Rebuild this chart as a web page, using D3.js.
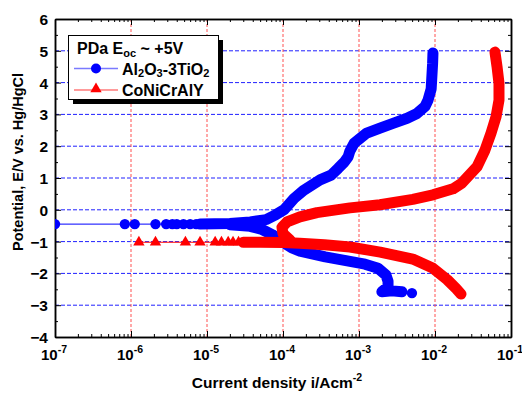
<!DOCTYPE html>
<html>
<head>
<meta charset="utf-8">
<script src="https://cdn.jsdelivr.net/npm/d3@7"></script>
<style>
  body { margin: 0; background: #fff; }
  text { font-family: Arial, "Liberation Sans", sans-serif; font-weight: bold; fill: #000; }
</style>
</head>
<body>
<div id="chart"></div>
<script>
// [current density (A/cm2), potential (V)]
const blueSparse = [
  [1e-7, -0.45], [8.3e-7, -0.45], [1.12e-6, -0.45], [2.1e-6, -0.45], [2.9e-6, -0.45],
  [3.5e-6, -0.45], [4.0e-6, -0.45], [4.9e-6, -0.45], [6.0e-6, -0.45], [7.2e-6, -0.45]
];
const blueAnodic = [
  [8.1e-6, -0.45], [2.0e-5, -0.43], [3.7e-5, -0.38], [6.0e-5, -0.31], [8.1e-5, -0.15],
  [1.03e-4, 0.0], [1.4e-4, 0.36], [1.89e-4, 0.62], [3.07e-4, 0.94], [4.3e-4, 1.09],
  [5.3e-4, 1.30], [6.4e-4, 1.50], [7.2e-4, 1.67], [7.6e-4, 1.85], [8.6e-4, 2.09],
  [1.24e-3, 2.40], [1.89e-3, 2.57], [2.8e-3, 2.72], [4.3e-3, 2.88], [5.8e-3, 3.03],
  [7.4e-3, 3.25], [8.1e-3, 3.45], [8.9e-3, 3.80], [9.1e-3, 4.20], [9.3e-3, 4.60], [9.4e-3, 4.93]
];
const blueCathodic = [
  [2.0e-5, -0.47], [3.7e-5, -0.52], [5.3e-5, -0.62], [7.2e-5, -0.78], [9.7e-5, -1.0], [1.31e-4, -1.2],
  [1.67e-4, -1.30], [3.6e-4, -1.48], [7.6e-4, -1.62], [1.2e-3, -1.71], [1.78e-3, -1.84],
  [2.26e-3, -2.05], [2.41e-3, -2.25], [2.41e-3, -2.42], [2.0e-3, -2.58], [2.72e-3, -2.55],
  [3.68e-3, -2.58]
];
const blueEnd = [[4.97e-3, -2.62]];

const redSparse = [
  [1.27e-6, -1.02], [2.1e-6, -1.02], [5.2e-6, -1.02], [8.1e-6, -1.02], [1.28e-5, -1.02],
  [1.55e-5, -1.02], [1.9e-5, -1.02], [2.2e-5, -1.02], [2.6e-5, -1.02]
];
const redCathodic = [
  [3.0e-5, -1.02], [5.0e-5, -1.02], [1.0e-4, -1.03], [1.66e-4, -1.05], [3.5e-4, -1.10],
  [7.6e-4, -1.17], [1.9e-3, -1.33], [5.1e-3, -1.55], [9.3e-3, -1.83], [1.45e-2, -2.2],
  [1.9e-2, -2.48], [2.2e-2, -2.65]
];
const redAnodic = [
  [1.24e-4, -0.95], [1.0e-4, -0.75], [9.7e-5, -0.55], [1.13e-4, -0.38], [1.67e-4, -0.22],
  [2.8e-4, -0.09], [7.6e-4, 0.06], [1.89e-3, 0.16], [5.1e-3, 0.33], [9.4e-3, 0.47],
  [1.73e-2, 0.66], [2.26e-2, 0.84], [3.57e-2, 1.35], [4.55e-2, 1.88], [5.46e-2, 2.41],
  [6.35e-2, 2.92], [6.95e-2, 3.45], [6.95e-2, 3.98], [6.55e-2, 4.5], [6.15e-2, 4.96]
];

const yTicks = [-4, -3, -2, -1, 0, 1, 2, 3, 4, 5, 6];
const yGrid = [-3, -2, -1, 0, 1, 2, 3, 4, 5];
const xExponents = [-7, -6, -5, -4, -3, -2, -1];
const xGrid = [1e-6, 1e-5, 1e-4, 1e-3, 1e-2];

const W = 522, H = 394;
const margin = { top: 19, right: 11, bottom: 57, left: 55 };
const width = W - margin.left - margin.right;
const height = H - margin.top - margin.bottom;

const svg = d3.select("#chart").append("svg")
  .attr("width", W).attr("height", H);
const g = svg.append("g")
  .attr("transform", "translate(" + margin.left + "," + margin.top + ")");

const x = d3.scaleLog().domain([1e-7, 1e-1]).range([0, width]);
const y = d3.scaleLinear().domain([-4, 6]).range([height, 0]);

svg.append("defs").append("clipPath").attr("id", "plot")
  .append("rect").attr("width", width).attr("height", height);

// grid
g.append("g").selectAll("line").data(yGrid).enter().append("line")
  .attr("x1", 0).attr("x2", width)
  .attr("y1", d => y(d)).attr("y2", d => y(d))
  .attr("stroke", "#2020ff").attr("stroke-width", 1).attr("stroke-dasharray", "4,2");
g.append("g").selectAll("line").data(xGrid).enter().append("line")
  .attr("x1", d => x(d)).attr("x2", d => x(d))
  .attr("y1", 0).attr("y2", height)
  .attr("stroke", "#ff5050").attr("stroke-width", 1).attr("stroke-dasharray", "3,2");

// axes (ticks inward)
const xMajor = xExponents.map(e => Math.pow(10, e));
const xMinor = [];
xExponents.slice(0, -1).forEach(e => { for (let k = 2; k <= 9; k++) xMinor.push(k * Math.pow(10, e)); });
const yMinor = d3.range(-3.5, 6, 1);

function styleAxis(sel) {
  sel.selectAll("path").attr("stroke", "#000").attr("stroke-width", 1.5);
  sel.selectAll("line").attr("stroke", "#000").attr("stroke-width", 1);
}
g.append("g").attr("transform", "translate(0," + height + ")")
  .call(d3.axisBottom(x).tickValues(xMajor).tickSize(-6).tickSizeOuter(0).tickFormat(""))
  .call(styleAxis);
g.append("g").attr("transform", "translate(0," + height + ")")
  .call(d3.axisBottom(x).tickValues(xMinor).tickSize(-3).tickSizeOuter(0).tickFormat(""))
  .call(styleAxis);
g.append("g")
  .call(d3.axisTop(x).tickValues(xMajor).tickSize(-6).tickSizeOuter(0).tickFormat(""))
  .call(styleAxis);
g.append("g")
  .call(d3.axisTop(x).tickValues(xMinor).tickSize(-3).tickSizeOuter(0).tickFormat(""))
  .call(styleAxis);
g.append("g")
  .call(d3.axisLeft(y).tickValues(yTicks).tickSize(-6).tickSizeOuter(0).tickPadding(7).tickFormat(d3.format("d")))
  .call(styleAxis)
  .call(a => a.selectAll("text").attr("font-size", 15.5).attr("dy", "0.36em")
    .style("font-family", "Arial, 'Liberation Sans', sans-serif").style("font-weight", "bold").attr("fill", "#000"));
g.append("g")
  .call(d3.axisLeft(y).tickValues(yMinor).tickSize(-3).tickSizeOuter(0).tickFormat(""))
  .call(styleAxis);
g.append("g").attr("transform", "translate(" + width + ",0)")
  .call(d3.axisRight(y).tickValues(yTicks).tickSize(-6).tickSizeOuter(0).tickFormat(""))
  .call(styleAxis);
g.append("g").attr("transform", "translate(" + width + ",0)")
  .call(d3.axisRight(y).tickValues(yMinor).tickSize(-3).tickSizeOuter(0).tickFormat(""))
  .call(styleAxis);

// x tick labels 10^n
const xl = g.append("g").selectAll("text").data(xExponents).enter().append("text")
  .attr("x", e => x(Math.pow(10, e)) - 1).attr("y", height + 23)
  .attr("text-anchor", "middle").attr("font-size", 15);
xl.append("tspan").text("10");
xl.append("tspan").attr("dy", -7).attr("font-size", 10.5).text(e => e);

// axis titles
svg.append("text").attr("transform", "translate(23,162) rotate(-90)")
  .attr("text-anchor", "middle").attr("font-size", 14.5)
  .text("Potential, E/V vs. Hg/HgCl");
const xt = svg.append("text").attr("x", 277).attr("y", 388)
  .attr("text-anchor", "middle").attr("font-size", 15.5);
xt.append("tspan").text("Current density i/Acm");
xt.append("tspan").attr("dy", -7).attr("font-size", 10.5).text("-2");

// data
const plot = g.append("g").attr("clip-path", "url(#plot)");
const line = d3.line().x(d => x(d[0])).y(d => y(d[1])).curve(d3.curveLinear);
const tri = d3.symbol().type(d3.symbolTriangle).size(56);

function drawSeries(sparse, bands, ends, color, marker) {
  plot.append("path").datum(sparse.concat([bands[0][0]]))
    .attr("d", line).attr("fill", "none").attr("stroke", color).attr("stroke-width", 1);
  bands.forEach(b => {
    plot.append("path").datum(b).attr("d", line).attr("fill", "none")
      .attr("stroke", color).attr("stroke-width", 11)
      .attr("stroke-linejoin", "round").attr("stroke-linecap", "round");
  });
  ends.forEach(e => {
    plot.append("path").datum([bands[1][bands[1].length - 1], e])
      .attr("d", line).attr("fill", "none").attr("stroke", color).attr("stroke-width", 1);
  });
  const pts = sparse.concat(ends);
  if (marker === "circle") {
    plot.append("g").selectAll("circle").data(pts).enter().append("circle")
      .attr("cx", d => x(d[0])).attr("cy", d => y(d[1])).attr("r", 5.2).attr("fill", color);
  } else {
    plot.append("g").selectAll("path").data(pts).enter().append("path")
      .attr("d", tri).attr("transform", d => "translate(" + x(d[0]) + "," + y(d[1]) + ")")
      .attr("fill", color);
  }
}
drawSeries(blueSparse, [blueAnodic, blueCathodic], blueEnd, "#0000ff", "circle");
drawSeries(redSparse, [redCathodic, redAnodic], [], "#ff0000", "triangle");

// legend
const lg = svg.append("g");
lg.append("rect").attr("x", 73).attr("y", 40).attr("width", 150).attr("height", 64).attr("fill", "#000");
lg.append("rect").attr("x", 68.5).attr("y", 35.5).attr("width", 150).attr("height", 64)
  .attr("fill", "#fff").attr("stroke", "#000").attr("stroke-width", 1);
const t1 = lg.append("text").attr("x", 77).attr("y", 54).attr("font-size", 16);
t1.append("tspan").text("PDa E");
t1.append("tspan").attr("dy", 3).attr("font-size", 11).text("oc");
t1.append("tspan").attr("dy", -3).text(" ~ +5V");
lg.append("line").attr("x1", 74).attr("x2", 118).attr("y1", 68.5).attr("y2", 68.5)
  .attr("stroke", "#7a7aff").attr("stroke-width", 1.5);
lg.append("circle").attr("cx", 96).attr("cy", 68.5).attr("r", 5).attr("fill", "#0000ff");
lg.append("line").attr("x1", 74).attr("x2", 118).attr("y1", 90).attr("y2", 90)
  .attr("stroke", "#ff7a7a").attr("stroke-width", 1.5);
lg.append("path").attr("d", tri).attr("transform", "translate(96,89)").attr("fill", "#ff0000");
const t2 = lg.append("text").attr("x", 122).attr("y", 75).attr("font-size", 16);
t2.append("tspan").text("Al");
t2.append("tspan").attr("dy", 2).attr("font-size", 11).text("2");
t2.append("tspan").attr("dy", -2).text("O");
t2.append("tspan").attr("dy", 2).attr("font-size", 11).text("3");
t2.append("tspan").attr("dy", -2).text("-3TiO");
t2.append("tspan").attr("dy", 2).attr("font-size", 11).text("2");
lg.append("text").attr("x", 122).attr("y", 96).attr("font-size", 16).text("CoNiCrAlY");
</script>
</body>
</html>
